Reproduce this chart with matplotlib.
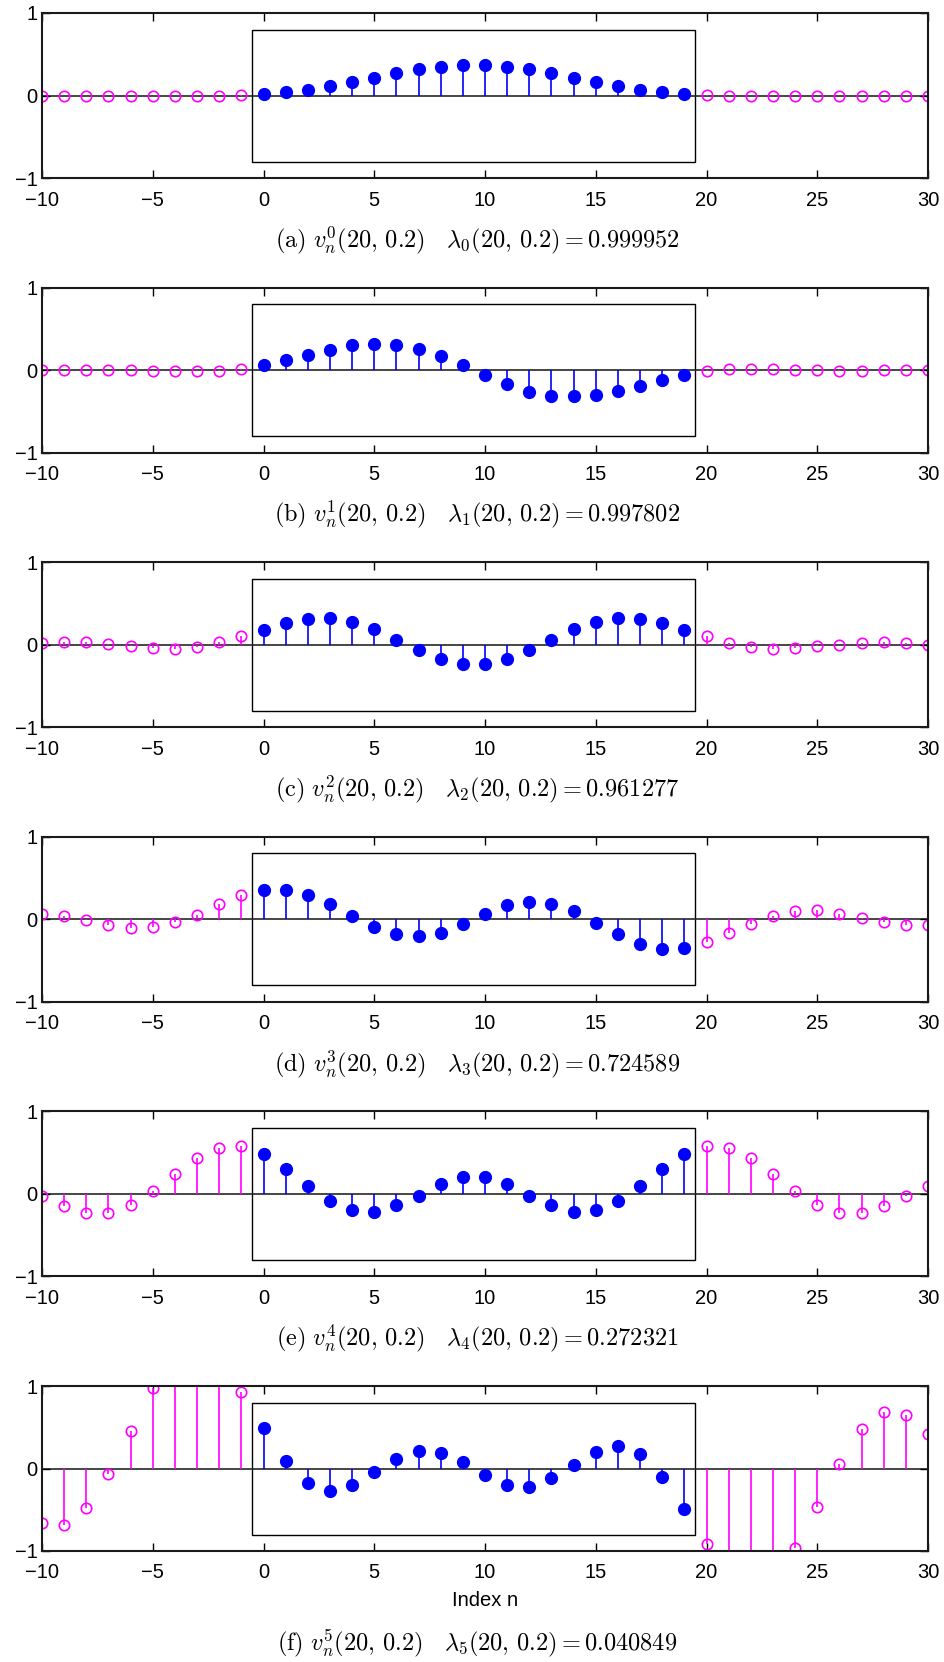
import matplotlib
matplotlib.use("Agg")
import matplotlib.pyplot as plt
from matplotlib.patches import Rectangle

plt.rcParams['font.family'] = ['Liberation Sans', 'DejaVu Sans']
plt.rcParams['mathtext.fontset'] = 'cm'

# sample indices
n_in = list(range(0, 20))
n_left = list(range(-10, 0))
n_right = list(range(20, 31))

# sequence values (inside window 0..19, outside left/right)
v0_in = [0.016, 0.04, 0.07, 0.11, 0.16, 0.21, 0.27, 0.32, 0.35, 0.37,
         0.37, 0.35, 0.32, 0.27, 0.21, 0.16, 0.11, 0.07, 0.04, 0.016]
v0_left = [0.0, 0.0, 0.0, 0.0, 0.0, 0.0, 0.0, 0.0, 0.0, 0.002]
v0_right = [0.002, 0.0, 0.0, 0.0, 0.0, 0.0, 0.0, 0.0, 0.0, 0.0, 0.0]

v1_in = [0.06, 0.12, 0.18, 0.24, 0.30, 0.32, 0.31, 0.26, 0.17, 0.06,
         -0.06, -0.17, -0.26, -0.31, -0.32, -0.30, -0.25, -0.19, -0.12, -0.06]
v1_left = [0.0, 0.0, 0.0, 0.0, 0.0, -0.005, -0.01, -0.015, -0.005, 0.015]
v1_right = [-0.015, 0.01, 0.015, 0.01, 0.0, 0.0, -0.005, -0.005, 0.0, 0.0, 0.0]

v2_in = [0.18, 0.26, 0.31, 0.32, 0.28, 0.19, 0.06, -0.07, -0.17, -0.23,
         -0.23, -0.17, -0.07, 0.06, 0.19, 0.28, 0.32, 0.31, 0.26, 0.18]
v2_left = [0.02, 0.03, 0.03, 0.005, -0.02, -0.04, -0.05, -0.025, 0.03, 0.10]
v2_right = [0.10, 0.015, -0.025, -0.05, -0.04, -0.02, 0.0, 0.025, 0.03, 0.015, 0.0]

v3_in = [0.36, 0.36, 0.30, 0.18, 0.045, -0.09, -0.18, -0.20, -0.16, -0.06,
         0.06, 0.17, 0.21, 0.19, 0.10, -0.04, -0.18, -0.30, -0.36, -0.35]
v3_left = [0.07, 0.035, -0.01, -0.07, -0.10, -0.09, -0.035, 0.055, 0.18, 0.29]
v3_right = [-0.28, -0.17, -0.06, 0.035, 0.10, 0.11, 0.07, 0.015, -0.03, -0.065, -0.07]

v4_in = [0.48, 0.30, 0.10, -0.085, -0.20, -0.22, -0.14, -0.02, 0.12, 0.20,
         0.20, 0.12, -0.02, -0.14, -0.22, -0.20, -0.085, 0.10, 0.30, 0.48]
v4_left = [-0.03, -0.15, -0.23, -0.23, -0.14, 0.03, 0.24, 0.43, 0.56, 0.58]
v4_right = [0.58, 0.56, 0.43, 0.24, 0.03, -0.14, -0.23, -0.23, -0.15, -0.03, 0.09]

v5_in = [0.49, 0.09, -0.18, -0.27, -0.20, -0.04, 0.12, 0.21, 0.19, 0.08,
         -0.08, -0.20, -0.22, -0.12, 0.04, 0.20, 0.27, 0.18, -0.10, -0.49]
v5_left = [-0.66, -0.69, -0.48, -0.065, 0.46, 0.97, 1.25, 1.35, 1.25, 0.93]
v5_right = [-0.92, -1.25, -1.35, -1.25, -0.96, -0.47, 0.06, 0.48, 0.69, 0.65, 0.42]

letters = ['a', 'b', 'c', 'd', 'e', 'f']
eigvals = ['0.999952', '0.997802', '0.961277', '0.724589', '0.272321', '0.040849']

inside = [v0_in, v1_in, v2_in, v3_in, v4_in, v5_in]
left = [v0_left, v1_left, v2_left, v3_left, v4_left, v5_left]
right = [v0_right, v1_right, v2_right, v3_right, v4_right, v5_right]

W, H = 945, 1662
fig = plt.figure(figsize=(W / 100, H / 100), dpi=100)

ax_left, ax_right = 42, 928
ax_h = 165
step = 274.6

for k in range(6):
    top = 13 + step * k
    ax = fig.add_axes([ax_left / W, 1 - (top + ax_h) / H, (ax_right - ax_left) / W, ax_h / H])

    ax.axhline(0, color='0.15', lw=1.2, zorder=1)

    for nn, vv in [(n_left, left[k]), (n_right, right[k])]:
        ml, sl, bl = ax.stem(nn, vv, linefmt='-', markerfmt='o', basefmt=' ')
        sl.set_color('#ff00ff')
        sl.set_linewidth(1.2)
        ml.set_color('#ff00ff')
        ml.set_markerfacecolor('none')
        ml.set_markersize(7.5)
        ml.set_markeredgewidth(1.2)

    ml, sl, bl = ax.stem(n_in, inside[k], linefmt='-', markerfmt='o', basefmt=' ')
    sl.set_color('#0000ff')
    sl.set_linewidth(1.2)
    ml.set_color('#0000ff')
    ml.set_markersize(8.5)

    ax.add_patch(Rectangle((-0.5, -0.8), 20, 1.6, fill=False, ec='black', lw=1.0, zorder=0.5))

    ax.set_xlim(-10, 30)
    ax.set_ylim(-1, 1)
    ax.set_xticks([-10, -5, 0, 5, 10, 15, 20, 25, 30])
    ax.set_yticks([-1, 0, 1])
    ax.tick_params(direction='in', top=True, right=True, length=6, width=1,
                   labelsize=14.5)
    ax.tick_params(axis='x', pad=9)
    ax.tick_params(axis='y', pad=3)
    for s in ax.spines.values():
        s.set_linewidth(1.5)
        s.set_color('0.1')

    cap_y = top + ax_h + 62
    if k == 5:
        ax.set_xlabel('Index n', fontsize=14.5, labelpad=6)
        cap_y = top + ax_h + 92
    caption = (r'$\mathrm{(%s)}\ v_n^{%d}(20,\,0.2)\quad \lambda_{%d}(20,\,0.2) = %s$'
               % (letters[k], k, k, eigvals[k]))
    fig.text(477 / W, 1 - cap_y / H, caption, ha='center', va='center', fontsize=17.5)

fig.savefig('out.png', dpi=100)
